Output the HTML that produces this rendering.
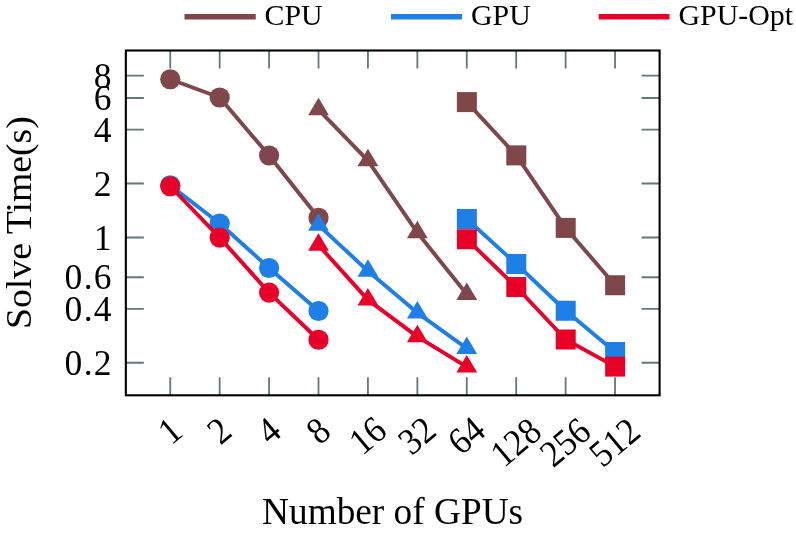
<!DOCTYPE html>
<html><head><meta charset="utf-8"><title>Solve Time vs Number of GPUs</title>
<style>html,body{margin:0;padding:0;background:#fff;}svg{display:block;}</style>
</head><body>
<svg width="796" height="533" viewBox="0 0 796 533">
<rect width="796" height="533" fill="#fff"/>
<g stroke="#5f797d" stroke-width="1.8" fill="none">
<path d="M170.25 50.5v18M170.25 395.3v-18"/>
<path d="M219.67 50.5v18M219.67 395.3v-18"/>
<path d="M269.09 50.5v18M269.09 395.3v-18"/>
<path d="M318.51 50.5v18M318.51 395.3v-18"/>
<path d="M367.93 50.5v18M367.93 395.3v-18"/>
<path d="M417.35 50.5v18M417.35 395.3v-18"/>
<path d="M466.77 50.5v18M466.77 395.3v-18"/>
<path d="M516.19 50.5v18M516.19 395.3v-18"/>
<path d="M565.61 50.5v18M565.61 395.3v-18"/>
<path d="M615.03 50.5v18M615.03 395.3v-18"/>
<path d="M125.85 75.60h18M659.6 75.60h-18"/>
<path d="M125.85 98.00h18M659.6 98.00h-18"/>
<path d="M125.85 129.56h18M659.6 129.56h-18"/>
<path d="M125.85 183.52h18M659.6 183.52h-18"/>
<path d="M125.85 237.48h18M659.6 237.48h-18"/>
<path d="M125.85 277.25h18M659.6 277.25h-18"/>
<path d="M125.85 308.81h18M659.6 308.81h-18"/>
<path d="M125.85 362.77h18M659.6 362.77h-18"/>
</g>
<g fill="#7f4749" stroke="#7f4749" stroke-width="3.9" stroke-linejoin="round">
<polyline points="170.25,79.25 219.67,97.5 269.09,155.5 318.51,217.75" fill="none"/>
<circle cx="170.25" cy="79.25" r="10.1" stroke="none"/>
<circle cx="219.67" cy="97.5" r="10.1" stroke="none"/>
<circle cx="269.09" cy="155.5" r="10.1" stroke="none"/>
<circle cx="318.51" cy="217.75" r="10.1" stroke="none"/>
<polyline points="318.51,109.58 367.93,160.58 417.35,232.58 466.77,294.33" fill="none"/>
<path d="M318.51 97.75L328.91 115.35H308.11Z" stroke="none"/>
<path d="M367.93 148.75L378.33 166.35H357.53Z" stroke="none"/>
<path d="M417.35 220.75L427.75 238.35H406.95Z" stroke="none"/>
<path d="M466.77 282.50L477.17 300.10H456.37Z" stroke="none"/>
<polyline points="466.87,102.1 516.29,155.4 565.71,227.9 615.13,285.25" fill="none"/>
<rect x="456.87" y="92.10" width="20" height="20" stroke="none"/>
<rect x="506.29" y="145.40" width="20" height="20" stroke="none"/>
<rect x="555.71" y="217.90" width="20" height="20" stroke="none"/>
<rect x="605.13" y="275.25" width="20" height="20" stroke="none"/>
</g>
<g fill="#1e80e7" stroke="#1e80e7" stroke-width="3.9" stroke-linejoin="round">
<polyline points="170.25,185.25 219.67,223.5 269.09,268 318.51,311" fill="none"/>
<circle cx="170.25" cy="185.25" r="10.1" stroke="none"/>
<circle cx="219.67" cy="223.5" r="10.1" stroke="none"/>
<circle cx="269.09" cy="268" r="10.1" stroke="none"/>
<circle cx="318.51" cy="311" r="10.1" stroke="none"/>
<polyline points="318.51,225.08 367.93,271.08 417.35,312.83 466.77,348.33" fill="none"/>
<path d="M318.51 213.25L328.91 230.85H308.11Z" stroke="none"/>
<path d="M367.93 259.25L378.33 276.85H357.53Z" stroke="none"/>
<path d="M417.35 301.00L427.75 318.60H406.95Z" stroke="none"/>
<path d="M466.77 336.50L477.17 354.10H456.37Z" stroke="none"/>
<polyline points="466.87,219 516.29,264 565.71,310.75 615.13,352" fill="none"/>
<rect x="456.87" y="209.00" width="20" height="20" stroke="none"/>
<rect x="506.29" y="254.00" width="20" height="20" stroke="none"/>
<rect x="555.71" y="300.75" width="20" height="20" stroke="none"/>
<rect x="605.13" y="342.00" width="20" height="20" stroke="none"/>
</g>
<g fill="#e80029" stroke="#e80029" stroke-width="3.9" stroke-linejoin="round">
<polyline points="170.25,186.25 219.67,237.6 269.09,292.6 318.51,339.75" fill="none"/>
<circle cx="170.25" cy="186.25" r="10.1" stroke="none"/>
<circle cx="219.67" cy="237.6" r="10.1" stroke="none"/>
<circle cx="269.09" cy="292.6" r="10.1" stroke="none"/>
<circle cx="318.51" cy="339.75" r="10.1" stroke="none"/>
<polyline points="318.51,245.08 367.93,299.83 417.35,336.58 466.77,366.83" fill="none"/>
<path d="M318.51 233.25L328.91 250.85H308.11Z" stroke="none"/>
<path d="M367.93 288.00L378.33 305.60H357.53Z" stroke="none"/>
<path d="M417.35 324.75L427.75 342.35H406.95Z" stroke="none"/>
<path d="M466.77 355.00L477.17 372.60H456.37Z" stroke="none"/>
<polyline points="466.87,239.25 516.29,287 565.71,339.5 615.13,366.6" fill="none"/>
<rect x="456.87" y="229.25" width="20" height="20" stroke="none"/>
<rect x="506.29" y="277.00" width="20" height="20" stroke="none"/>
<rect x="555.71" y="329.50" width="20" height="20" stroke="none"/>
<rect x="605.13" y="356.60" width="20" height="20" stroke="none"/>
</g>
<rect x="125.85" y="50.5" width="533.75" height="344.8" fill="none" stroke="#000" stroke-width="2.1"/>
<g font-family="'Liberation Serif', serif" font-size="35.5" fill="#000">
<text x="111.6" y="87.80" text-anchor="end">8</text>
<text x="111.6" y="110.20" text-anchor="end">6</text>
<text x="111.6" y="141.76" text-anchor="end">4</text>
<text x="111.6" y="195.72" text-anchor="end">2</text>
<text x="111.6" y="249.68" text-anchor="end">1</text>
<text x="112.9" y="289.45" text-anchor="end" letter-spacing="1.3">0.6</text>
<text x="112.9" y="321.01" text-anchor="end" letter-spacing="1.3">0.4</text>
<text x="112.9" y="374.97" text-anchor="end" letter-spacing="1.3">0.2</text>
</g>
<g font-family="'Liberation Serif', serif" font-size="37.5" fill="#000" text-anchor="middle">
<text transform="translate(169.65 430.4) rotate(-40) scale(0.93 1)" x="0" y="12.7">1</text>
<text transform="translate(219.07 430.4) rotate(-40) scale(0.93 1)" x="0" y="12.7">2</text>
<text transform="translate(268.49 430.4) rotate(-40) scale(0.93 1)" x="0" y="12.7">4</text>
<text transform="translate(317.91 430.4) rotate(-40) scale(0.93 1)" x="0" y="12.7">8</text>
<text transform="translate(367.33 435.2) rotate(-40) scale(0.93 1)" x="0" y="12.7">16</text>
<text transform="translate(416.75 435.2) rotate(-40) scale(0.93 1)" x="0" y="12.7">32</text>
<text transform="translate(466.17 435.2) rotate(-40) scale(0.93 1)" x="0" y="12.7">64</text>
<text transform="translate(515.59 442.0) rotate(-40) scale(0.93 1)" x="0" y="12.7">128</text>
<text transform="translate(565.01 442.0) rotate(-40) scale(0.93 1)" x="0" y="12.7">256</text>
<text transform="translate(614.43 442.0) rotate(-40) scale(0.93 1)" x="0" y="12.7">512</text>
</g>
<g font-family="'Liberation Serif', serif" fill="#000" text-anchor="middle">
<text x="392.6" y="523.7" font-size="37.3">Number of GPUs</text>
<text transform="translate(30.9 222.6) rotate(-90) scale(1.034 1)" font-size="36.5">Solve Time(s)</text>
</g>
<g font-family="'Liberation Serif', serif" font-size="29.9" fill="#000">
<path d="M184.5 16.75H255.75" stroke="#7f4749" stroke-width="5.3"/>
<text x="264.5" y="24.6">CPU</text>
<path d="M391 16.75H462" stroke="#1e80e7" stroke-width="5.3"/>
<text x="471.0" y="24.6">GPU</text>
<path d="M598.75 16.75H669.5" stroke="#e80029" stroke-width="5.3"/>
<text x="678.5" y="24.6">GPU-Opt</text>
</g>
</svg>
</body></html>
